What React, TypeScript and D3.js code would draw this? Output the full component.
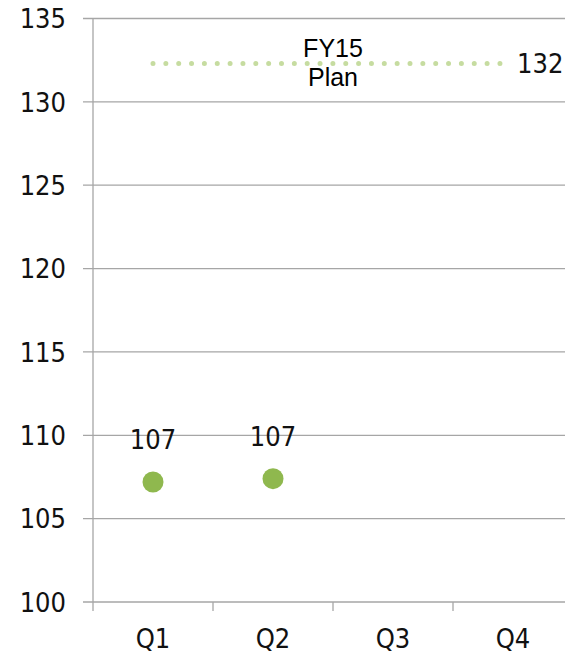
import React from "react";
import * as d3 from "d3";

const quarters = ["Q1", "Q2", "Q3", "Q4"];
const actualQuarters = ["Q1", "Q2"];
const actualValues = [107.2, 107.4];
const planValue = 132.3;
const planLabelLines = ["FY15", "Plan"];
const yTicks = [100, 105, 110, 115, 120, 125, 130, 135];

const W = 565;
const H = 656;
const axisFont = "'DejaVu Sans Condensed', 'DejaVu Sans', Verdana, sans-serif";
const labelFont = "'Liberation Sans', Arial, sans-serif";

export default function App() {
  const x = d3.scaleBand<string>().domain(quarters).range([93, 573]).padding(0);
  const y = d3.scaleLinear().domain([100, 135]).range([602, 18.5]);
  const fmt = d3.format(".0f");
  const cx = (q: string) => (x(q) ?? 0) + x.bandwidth() / 2;
  const grid = "#a6a6a6";

  const planStart = cx("Q1");
  const planEnd = cx("Q4") - 13;
  const planY = y(planValue);
  const mid = (x.range()[0] + x.range()[1]) / 2;

  return (
    <div style={{ position: "absolute", left: 0, top: 0 }}>
      <svg width={W} height={H} style={{ display: "block", background: "#fff" }}>
        {/* horizontal gridlines with short outer ticks */}
        {yTicks.map((t) => (
          <g key={t}>
            <line x1={83} x2={W} y1={y(t)} y2={y(t)} stroke={grid} strokeWidth={1.3} />
            <text
              x={66}
              y={y(t)}
              dy="0.36em"
              textAnchor="end"
              fontFamily={axisFont}
              fontSize={27}
              fill="#111"
            >
              {t}
            </text>
          </g>
        ))}
        {/* vertical axis */}
        <line x1={93} x2={93} y1={y(135)} y2={611} stroke={grid} strokeWidth={1.3} />
        {/* category ticks */}
        {quarters.map((q) => (
          <line
            key={q}
            x1={(x(q) ?? 0) + x.bandwidth()}
            x2={(x(q) ?? 0) + x.bandwidth()}
            y1={y(100)}
            y2={611}
            stroke={grid}
            strokeWidth={1.3}
          />
        ))}
        {quarters.map((q) => (
          <text
            key={q}
            x={cx(q)}
            y={648}
            textAnchor="middle"
            fontFamily={axisFont}
            fontSize={27}
            fill="#111"
          >
            {q}
          </text>
        ))}
        {/* plan target dotted line */}
        <line
          x1={planStart}
          x2={planEnd}
          y1={planY}
          y2={planY}
          stroke="#c6dca0"
          strokeWidth={5}
          strokeLinecap="round"
          strokeDasharray="0 12.85"
        />
        <text x={mid} y={57} textAnchor="middle" fontFamily={labelFont} fontSize={25} fill="#000">
          {planLabelLines[0]}
        </text>
        <text x={mid} y={86} textAnchor="middle" fontFamily={labelFont} fontSize={25} fill="#000">
          {planLabelLines[1]}
        </text>
        <text x={517} y={planY} dy="0.36em" fontFamily={axisFont} fontSize={27} fill="#111">
          {fmt(planValue)}
        </text>
        {/* actual quarter results */}
        {actualQuarters.map((q, i) => (
          <g key={q}>
            <circle cx={cx(q)} cy={y(actualValues[i])} r={10.5} fill="#8fb84e" />
            <text
              x={cx(q)}
              y={y(actualValues[i]) - 33}
              textAnchor="middle"
              fontFamily={axisFont}
              fontSize={27}
              fill="#111"
            >
              {fmt(actualValues[i])}
            </text>
          </g>
        ))}
      </svg>
    </div>
  );
}
